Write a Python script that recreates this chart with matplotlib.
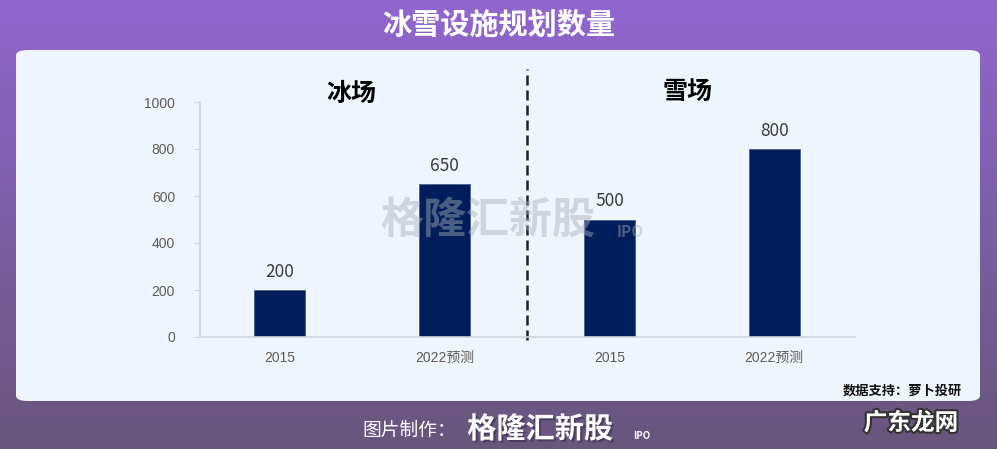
import numpy as np
import matplotlib.pyplot as plt
import matplotlib.patheffects as pe
from matplotlib.patches import FancyBboxPatch

plt.rcParams['font.family'] = ['Noto Sans CJK SC', 'DejaVu Sans']

# data
categories = ['2015', '2022预测', '2015', '2022预测']
values = [200, 650, 500, 800]
groups = ['冰场', '雪场']

fig = plt.figure(figsize=(9.97, 4.49), dpi=100)

# purple gradient background
bg = fig.add_axes([0, 0, 1, 1], zorder=-10)
grad = np.linspace(0, 1, 256).reshape(-1, 1)
top = np.array([146, 102, 208]) / 255
bottom = np.array([104, 86, 124]) / 255
img = top + (bottom - top) * grad[:, :, None]
bg.imshow(img, aspect='auto', extent=[0, 1, 0, 1])
bg.set_xlim(0, 1)
bg.set_ylim(0, 1)
bg.axis('off')

# light panel
panel = FancyBboxPatch((16 / 997, 1 - 401 / 449), (980 - 16) / 997, (401 - 50) / 449,
                       boxstyle='round,pad=0,rounding_size=0.012',
                       transform=fig.transFigure, facecolor='#EEF5FD',
                       edgecolor='none', zorder=-5)
fig.patches.append(panel)

fig.text(0.5, 1 - 25 / 449, '冰雪设施规划数量', color='white', fontsize=21,
         fontweight='bold', ha='center', va='center')

tickfont = ['Liberation Sans', 'Noto Sans CJK SC']

ax = fig.add_axes([200 / 997, 1 - 337 / 449, (855 - 200) / 997, (337 - 102) / 449])
ax.set_facecolor('none')
x = np.arange(len(values))
bars = ax.bar(x, values, width=0.31, color='#001E5C', edgecolor='#4A5F8A', linewidth=0.6)
for xi, v in zip(x, values):
    ax.text(xi, v + 40, str(v), ha='center', va='bottom', fontsize=12.5, color='#3A3A3A')

ax.set_xlim(-0.485, 3.49)
ax.set_ylim(0, 1000)
ax.set_yticks(range(0, 1001, 200))
ax.set_xticks(x)
ax.set_xticklabels(categories)
ax.tick_params(axis='x', length=0, pad=10)
ax.tick_params(axis='y', length=4, color='#D0D5DC', pad=14)
for lab in ax.get_xticklabels() + ax.get_yticklabels():
    lab.set_fontfamily(tickfont)
    lab.set_fontsize(10)
    lab.set_color('#5F5A55')
for s in ['top', 'right']:
    ax.spines[s].set_visible(False)
for s in ['left', 'bottom']:
    ax.spines[s].set_color('#D0D5DC')
    ax.spines[s].set_linewidth(1.2)

# dashed divider
ax.plot([1.5, 1.5], [-12, 1140], linestyle=(0, (4, 2)), color='#222222',
        linewidth=1.8, clip_on=False)

# group titles
fig.text(351 / 997, 1 - 94 / 449, groups[0], fontsize=18, fontweight='bold',
         ha='center', va='center', color='black')
fig.text(688 / 997, 1 - 92 / 449, groups[1], fontsize=18, fontweight='bold',
         ha='center', va='center', color='black')

# watermark
fig.text(488 / 997, 1 - 221 / 449, '格隆汇新股', fontsize=31, fontweight='heavy',
         color='#A8AEB6', alpha=0.45, ha='center', va='center', zorder=5)
fig.text(630 / 997, 1 - 232 / 449, 'IPO', fontsize=11, fontweight='bold',
         style='italic', color='#A8AEB6', alpha=0.45, ha='center', va='center', zorder=5)

fig.text(962 / 997, 1 - 391 / 449, '数据支持：萝卜投研', fontsize=9.5, fontweight='bold',
         ha='right', va='center', color='#111111')

# footer
fig.text(456 / 997, 1 - 430 / 449, '图片制作：', fontsize=13.5, color='white',
         ha='right', va='center')
fig.text(540 / 997, 1 - 429 / 449, '格隆汇新股', fontsize=21, fontweight='heavy',
         color='white', ha='center', va='center',
         path_effects=[pe.withSimplePatchShadow(offset=(1.5, -1.5), shadow_rgbFace='#3A3050', alpha=0.6)])
fig.text(642 / 997, 1 - 436 / 449, 'IPO', fontsize=7, fontweight='bold',
         style='italic', color='white', ha='center', va='center')
t = fig.text(911 / 997, 1 - 423 / 449, '广东龙网', fontsize=17, fontweight='bold',
             color='white', ha='center', va='center')
t.set_path_effects([pe.withStroke(linewidth=3, foreground='#333333')])

fig.savefig('out.png', dpi=100)
